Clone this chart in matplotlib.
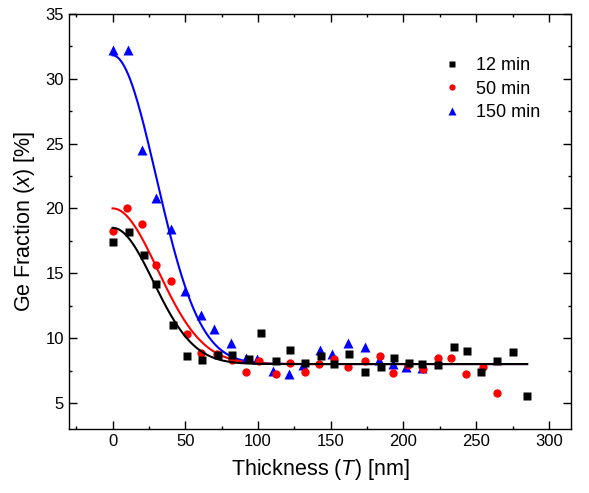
#!/usr/bin/env python3

import numpy as np
import matplotlib as mpl
mpl.use('Agg')
import matplotlib.pyplot as plt
from matplotlib.ticker import MultipleLocator

#-----------------------------------------------------------------------------#
# data

t_12 = [0, 11, 21.5, 30, 41.5, 51, 61.5, 72.5, 82, 93.5, 102, 112.5, 122, 132.5,
        143, 152.5, 162.5, 173.5, 184.5, 193.5, 203.5, 212.5, 224, 235, 244,
        253.5, 264.5, 275, 285]
x_12 = [17.4, 18.2, 16.4, 14.2, 11.0, 8.6, 8.3, 8.7, 8.7, 8.4, 10.4, 8.2, 9.1, 8.05,
        8.6, 8.0, 8.75, 7.4, 7.8, 8.5, 8.1, 8.0, 7.9, 9.3, 9.0,
        7.4, 8.2, 8.9, 5.5]

t_50 = [0, 10, 20, 30, 40.5, 51, 60.5, 71.5, 82, 91.5, 100.5, 112.5, 122, 132.5,
        142, 152.5, 162, 173.5, 184, 192.5, 203, 213.5, 224, 233, 243, 254.5, 264]
x_50 = [18.25, 20.0, 18.8, 15.6, 14.4, 10.3, 8.85, 8.75, 8.3, 7.4, 8.2, 7.2, 8.05, 7.4,
        8.0, 8.4, 7.8, 8.2, 8.6, 7.3, 7.9, 7.6, 8.5, 8.5, 7.2, 7.8, 5.8]

t_150 = [0, 10.5, 20.5, 30, 40, 50, 60.5, 70, 81.5, 92, 99.5, 110.5, 121.5, 131,
         142.5, 151, 162, 173.5, 183, 192.5, 201.5, 213]
x_150 = [32.2, 32.2, 24.5, 20.8, 18.4, 13.6, 11.8, 10.7, 9.6, 8.5, 8.4, 7.5, 7.2, 7.9,
         9.1, 8.8, 9.6, 9.3, 8.3, 8.0, 7.8, 7.7]

# gaussian fit parameters (plateau, amplitude, width)
fit_12 = (8.0, 10.5, 28.0)
fit_50 = (8.0, 12.0, 31.0)
fit_150 = (8.0, 23.8, 30.0)

labels = ['12 min', '50 min', '150 min']

#-----------------------------------------------------------------------------#
# plot

def gauss(t, p):
    y0, a, w = p
    return y0 + a * np.exp(-t ** 2 / (2 * w ** 2))

plt.rcParams['font.family'] = ['Liberation Sans', 'DejaVu Sans']
plt.rcParams['mathtext.fontset'] = 'custom'
plt.rcParams['mathtext.it'] = 'Liberation Sans:italic'
plt.rcParams['mathtext.rm'] = 'Liberation Sans'

fig = plt.figure(figsize=(5.89, 4.93), dpi=100)
ax = fig.add_axes([0.117, 0.130, 0.852, 0.842])

tt = np.linspace(0, 285, 400)
ax.plot(tt, gauss(tt, fit_150), '-', color='#0000ff', lw=1.5, zorder=2)
ax.plot(tt, gauss(tt, fit_50), '-', color='#ff0000', lw=1.5, zorder=2)

ax.plot(t_150, x_150, '^', color='#0000ff', ms=7, mec='none', ls='none', label=labels[2], zorder=3)
ax.plot(t_50, x_50, 'o', color='#ff0000', ms=6, mec='none', ls='none', label=labels[1], zorder=3)
ax.plot(t_12, x_12, 's', color='black', ms=6, mec='none', ls='none', label=labels[0], zorder=4)

ax.plot(tt, gauss(tt, fit_12), '-', color='black', lw=1.5, zorder=5)

ax.set_xlim(-30, 315)
ax.set_ylim(3, 35)
ax.xaxis.set_major_locator(MultipleLocator(50))
ax.xaxis.set_minor_locator(MultipleLocator(25))
ax.yaxis.set_major_locator(MultipleLocator(5))
ax.yaxis.set_minor_locator(MultipleLocator(2.5))
ax.tick_params(which='both', direction='in', top=True, right=True, width=1.0, labelsize=12)
ax.tick_params(which='major', length=5.5)
ax.tick_params(which='minor', length=2.5)
for s in ax.spines.values():
    s.set_linewidth(1.0)

ax.set_xlabel('Thickness ($T$) [nm]', fontsize=15.5, labelpad=6)
ax.set_ylabel('Ge Fraction ($x$) [%]', fontsize=15.5, labelpad=6)

h, l = ax.get_legend_handles_labels()
order = [2, 1, 0]
ax.legend([h[i] for i in order], [l[i] for i in order], frameon=False, fontsize=13,
          loc='upper right', bbox_to_anchor=(0.972, 0.934), handletextpad=0.6,
          markerscale=0.75, labelspacing=0.35, handlelength=1.5)

plt.savefig('out.png', dpi=100)
